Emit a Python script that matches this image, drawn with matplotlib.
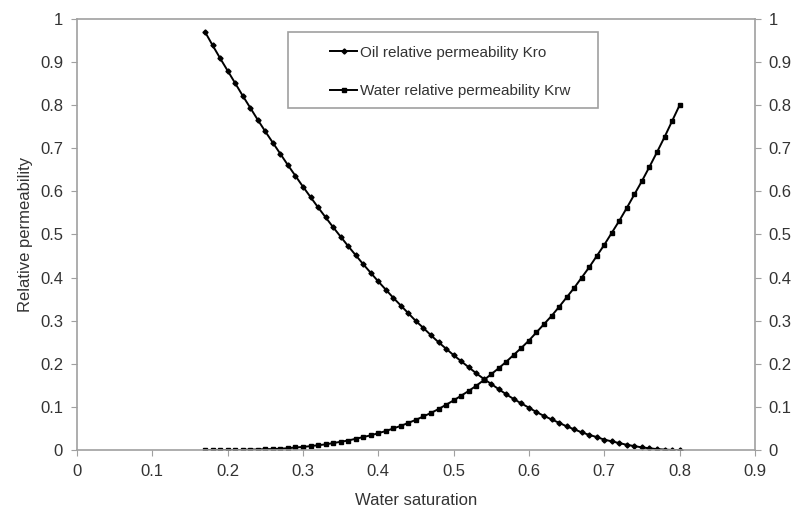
import matplotlib.pyplot as plt
from matplotlib.patches import Rectangle

plt.rcParams['font.family'] = ['Liberation Sans', 'DejaVu Sans']

# water saturation sample points
sw = [0.17, 0.18, 0.19, 0.20, 0.21, 0.22, 0.23, 0.24, 0.25, 0.26,
      0.27, 0.28, 0.29, 0.30, 0.31, 0.32, 0.33, 0.34, 0.35, 0.36,
      0.37, 0.38, 0.39, 0.40, 0.41, 0.42, 0.43, 0.44, 0.45, 0.46,
      0.47, 0.48, 0.49, 0.50, 0.51, 0.52, 0.53, 0.54, 0.55, 0.56,
      0.57, 0.58, 0.59, 0.60, 0.61, 0.62, 0.63, 0.64, 0.65, 0.66,
      0.67, 0.68, 0.69, 0.70, 0.71, 0.72, 0.73, 0.74, 0.75, 0.76,
      0.77, 0.78, 0.79, 0.80]

# oil relative permeability
kro = [0.970, 0.939, 0.909, 0.880, 0.851, 0.822, 0.794, 0.766, 0.739, 0.713,
       0.687, 0.661, 0.636, 0.611, 0.587, 0.563, 0.540, 0.517, 0.495, 0.473,
       0.452, 0.431, 0.411, 0.391, 0.372, 0.353, 0.335, 0.317, 0.299, 0.283,
       0.266, 0.250, 0.235, 0.220, 0.206, 0.192, 0.178, 0.165, 0.153, 0.141,
       0.129, 0.118, 0.108, 0.098, 0.088, 0.079, 0.071, 0.063, 0.055, 0.048,
       0.041, 0.035, 0.030, 0.024, 0.020, 0.016, 0.012, 0.009, 0.006, 0.004,
       0.002, 0.001, 0.000, 0.000]

# water relative permeability
krw = [0.000, 0.000, 0.000, 0.000, 0.000, 0.000, 0.001, 0.001, 0.002, 0.002,
       0.003, 0.004, 0.006, 0.007, 0.009, 0.011, 0.013, 0.016, 0.019, 0.022,
       0.026, 0.030, 0.034, 0.039, 0.044, 0.050, 0.056, 0.063, 0.070, 0.078,
       0.086, 0.095, 0.105, 0.115, 0.126, 0.137, 0.149, 0.162, 0.176, 0.190,
       0.205, 0.221, 0.237, 0.254, 0.273, 0.292, 0.311, 0.332, 0.354, 0.376,
       0.400, 0.424, 0.450, 0.476, 0.504, 0.532, 0.562, 0.593, 0.624, 0.657,
       0.691, 0.726, 0.763, 0.800]

xticks = [0, 0.1, 0.2, 0.3, 0.4, 0.5, 0.6, 0.7, 0.8, 0.9]
yticks = [0, 0.1, 0.2, 0.3, 0.4, 0.5, 0.6, 0.7, 0.8, 0.9, 1]

fig = plt.figure(figsize=(7.98, 5.18), dpi=100)
ax = fig.add_axes([0.0965, 0.1313, 0.8495, 0.832])

ax.plot(sw, kro, color='black', lw=1.4, marker='D', ms=2.6,
        label='Oil relative permeability Kro')
ax.plot(sw, krw, color='black', lw=1.4, marker='s', ms=2.6,
        label='Water relative permeability Krw')

ax.set_xlim(0, 0.9)
ax.set_ylim(0, 1)
ax.set_xticks(xticks)
ax.set_yticks(yticks)
ax.set_xticklabels([f'{v:g}' for v in xticks])
ax.set_yticklabels([f'{v:g}' for v in yticks])

for s in ax.spines.values():
    s.set_color('#a0a0a0')
    s.set_linewidth(1.2)

ax.tick_params(axis='both', direction='out', length=4, color='#a0a0a0',
               labelsize=12, labelcolor='#333333', pad=6)
ax.tick_params(axis='y', right=True, labelright=True)
ax.tick_params(axis='x', top=False)

ax.set_xlabel('Water saturation', fontsize=12, color='#333333', labelpad=10)
ax.set_ylabel('Relative permeability', fontsize=12, color='#333333', labelpad=5)

# legend frame drawn separately so the padding can be wider than tall
ax.add_patch(Rectangle((0.311, 0.7935), 0.457, 0.176, transform=ax.transAxes,
                       facecolor='white', edgecolor='#a0a0a0', lw=1.2,
                       zorder=4))
leg = ax.legend(loc='upper left', bbox_to_anchor=(0.373, 0.938), fontsize=11,
                frameon=False, handlelength=1.8, labelspacing=1.6,
                borderpad=0, handletextpad=0.2, borderaxespad=0)
leg.set_zorder(5)
for t in leg.get_texts():
    t.set_color('#333333')

fig.savefig('out.png', dpi=100)
